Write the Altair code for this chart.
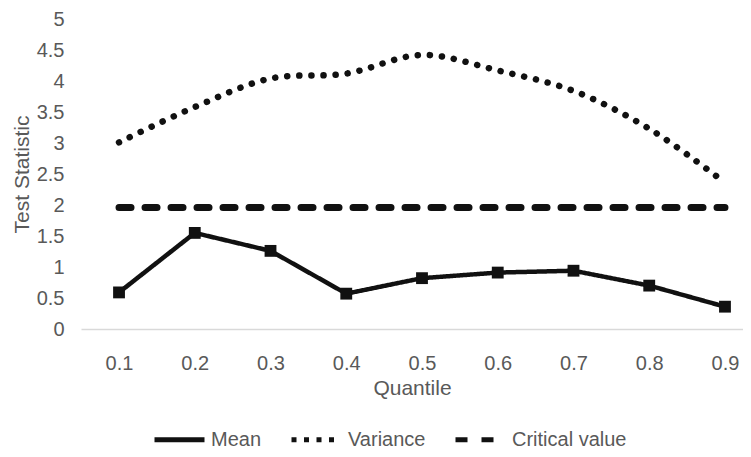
import altair as alt
import pandas as pd

quantiles = [0.1, 0.2, 0.3, 0.4, 0.5, 0.6, 0.7, 0.8, 0.9]
mean_vals = [0.59, 1.55, 1.26, 0.57, 0.82, 0.91, 0.94, 0.70, 0.36]
variance_vals = [3.01, 3.58, 4.04, 4.12, 4.42, 4.17, 3.84, 3.23, 2.36]
critical_vals = [1.96] * 9
series_names = ["Mean", "Variance", "Critical value"]
y_ticks = [0, 0.5, 1, 1.5, 2, 2.5, 3, 3.5, 4, 4.5, 5]

rows = []
for name, vals in zip(series_names, [mean_vals, variance_vals, critical_vals]):
    for q, v in zip(quantiles, vals):
        rows.append({"Quantile": q, "value": v, "series": name})
df = pd.DataFrame(rows)

FONT = "Liberation Sans"
GRAY = "#595959"
INK = "#111111"

x_enc = alt.X(
    "Quantile:Q",
    scale=alt.Scale(domain=[0.0498, 0.9238], nice=False, zero=False),
    axis=alt.Axis(values=quantiles, format=".1f", title="Quantile", grid=False,
                  ticks=False, domainColor="#d9d9d9", domainWidth=1.3,
                  labelPadding=24, titlePadding=4),
)
y_enc = alt.Y(
    "value:Q",
    scale=alt.Scale(domain=[0, 5], nice=False),
    axis=alt.Axis(values=y_ticks, format="~g", title="Test Statistic", grid=False,
                  ticks=False, domain=False, labelPadding=17, titlePadding=4),
)
dash_enc = alt.StrokeDash(
    "series:N",
    scale=alt.Scale(domain=series_names, range=[[1, 0], [5, 7.5], [12, 14]]),
    sort=series_names,
    legend=alt.Legend(title=None, orient="none", direction="horizontal",
                      legendX=71, legendY=393, symbolType="stroke", symbolSize=2500,
                      symbolStrokeColor=INK, symbolStrokeWidth=5,
                      labelFontSize=20, labelFont=FONT,
                      labelColor=GRAY, columnPadding=19, labelOffset=4,
                      values=series_names),
)

base = alt.Chart(df).encode(x=x_enc, y=y_enc)

mean_line = base.transform_filter(alt.datum.series == "Mean").mark_line(
    color=INK, strokeCap="butt", strokeJoin="miter", strokeWidth=4.5
).encode(strokeDash=dash_enc)
crit_line = base.transform_filter(alt.datum.series == "Critical value").mark_line(
    color=INK, strokeCap="round", strokeWidth=7
).encode(strokeDash=dash_enc)
var_line = base.transform_filter(alt.datum.series == "Variance").mark_line(
    color=INK, strokeCap="round", interpolate="catmull-rom",
    strokeWidth=6.5, strokeDash=[0.1, 12])
mean_pts = base.transform_filter(alt.datum.series == "Mean").mark_point(
    shape="square", filled=True, color=INK, size=140, opacity=1)

chart = alt.layer(var_line, crit_line, mean_line, mean_pts).properties(
    width=662, height=310,
    autosize=alt.AutoSizeParams(type="none"),
    padding={"left": 73, "top": 11, "right": 0, "bottom": 125},
).configure_view(stroke=None).configure_axis(
    labelFont=FONT, titleFont=FONT, labelFontSize=20, titleFontSize=21,
    labelColor=GRAY, titleColor=GRAY, titleFontWeight="normal",
)

chart.save("out.html", embed_options={"renderer": "svg", "actions": False})
